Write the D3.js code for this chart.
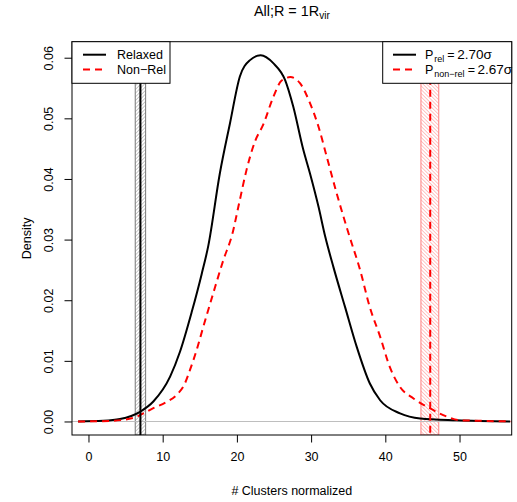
<!DOCTYPE html>
<html lang='en'>
<head>
<meta charset='UTF-8'>
<title>All;R = 1Rvir</title>
<script src='https://d3js.org/d3.v7.min.js'></script>
<style>
  body { margin: 0; background: #fff; }
  svg { display: block; font-family: 'Liberation Sans', Arial, sans-serif; }
</style>
</head>
<body>
<div id='chart'></div>
<script>
// density curves
const relaxedX = [-1.4, 2, 4.25, 6.94, 8.74, 11.0, 12.33, 13.9, 15.25, 16.15, 17.7, 19.07, 20.4, 21.77, 23.2, 24.9, 26.5, 27.6, 28.95, 29.85, 31.0, 31.9, 33.0, 34.57, 36.15, 37.9, 39.3, 41.98, 44.7, 49.6, 56.8];
const relaxedDensity = [0, 0.0001, 0.0004, 0.0016, 0.0033, 0.0074, 0.0115, 0.018, 0.0243, 0.029, 0.0409, 0.0492, 0.0569, 0.0596, 0.0604, 0.0591, 0.0563, 0.0519, 0.0448, 0.0409, 0.0354, 0.0305, 0.0255, 0.0189, 0.0123, 0.0063, 0.0035, 0.00135, 0.0005, 0.0002, 0];
const nonRelX = [-1.4, 3, 6.04, 8.74, 10.5, 11.9, 13.0, 13.68, 14.58, 15.47, 16.8, 18.17, 19.4, 20.3, 21.3, 22.44, 23.56, 24.9, 26.0, 27.2, 28.5, 29.85, 31.0, 32.1, 33.45, 35.0, 36.6, 37.9, 39.3, 40.6, 41.98, 43.8, 45.96, 48.3, 50.1, 53, 57];
const nonRelDensity = [0, 0.0001, 0.0006, 0.0022, 0.0032, 0.0044, 0.0063, 0.0085, 0.0118, 0.0156, 0.0211, 0.0266, 0.031, 0.036, 0.0415, 0.0462, 0.049, 0.0535, 0.0562, 0.0568, 0.0558, 0.0525, 0.0486, 0.0437, 0.0376, 0.0312, 0.025, 0.0189, 0.014, 0.009, 0.0057, 0.0038, 0.0022, 0.0008, 0.0002, 0.0001, 0];

// observed value and its uncertainty band
const relaxedMark = 7.0;
const relaxedBand = [6.3, 7.7];
const nonRelMark = 46.05;
const nonRelBand = [44.8, 47.2];

const xTicks = [0, 10, 20, 30, 40, 50];
const yTicks = [0, 0.01, 0.02, 0.03, 0.04, 0.05, 0.06];
const seriesNames = ['Relaxed', 'Non\u2212Rel'];
const sigmaSubs = ['rel', 'non\u2212rel'];
const sigmaValues = ['2.70\u03c3', '2.67\u03c3'];

const W = 517, H = 502;
const box = { left: 72, right: 511.7, top: 41.7, bottom: 435 };

const x = d3.scaleLinear().domain([-2.22, 57.03]).range([box.left, box.right]);
const y = d3.scaleLinear().domain([-0.00223, 0.06264]).range([box.bottom, box.top]);

const svg = d3.select('#chart').append('svg').attr('width', W).attr('height', H);

const defs = svg.append('defs');
defs.append('clipPath').attr('id', 'plotclip')
  .append('rect')
  .attr('x', box.left).attr('y', box.top)
  .attr('width', box.right - box.left).attr('height', box.bottom - box.top);

const hatch = (id, angle, colour) => {
  const p = defs.append('pattern').attr('id', id)
    .attr('patternUnits', 'userSpaceOnUse')
    .attr('width', 2.6).attr('height', 2.6)
    .attr('patternTransform', `rotate(${angle})`);
  p.append('line').attr('x1', 0).attr('y1', 0).attr('x2', 0).attr('y2', 2.6)
    .attr('stroke', colour).attr('stroke-width', 0.9);
};
hatch('hatchRel', 45, '#8a8a8a');
hatch('hatchNon', -45, '#ff7a7a');

const plot = svg.append('g').attr('clip-path', 'url(#plotclip)');

// bands
plot.append('rect')
  .attr('x', x(relaxedBand[0])).attr('y', box.top)
  .attr('width', x(relaxedBand[1]) - x(relaxedBand[0])).attr('height', box.bottom - box.top)
  .attr('fill', 'url(#hatchRel)').attr('stroke', '#777').attr('stroke-width', 1);
plot.append('rect')
  .attr('x', x(nonRelBand[0])).attr('y', box.top)
  .attr('width', x(nonRelBand[1]) - x(nonRelBand[0])).attr('height', box.bottom - box.top)
  .attr('fill', 'url(#hatchNon)').attr('stroke', '#ff8080').attr('stroke-width', 1);

// zero line
plot.append('line')
  .attr('x1', box.left).attr('x2', box.right)
  .attr('y1', y(0)).attr('y2', y(0))
  .attr('stroke', '#bebebe').attr('stroke-width', 1.2);

const line = d3.line().x(d => x(d[0])).y(d => y(d[1])).curve(d3.curveMonotoneX);

plot.append('path')
  .datum(relaxedX.map((v, i) => [v, relaxedDensity[i]]))
  .attr('d', line)
  .attr('fill', 'none').attr('stroke', '#000').attr('stroke-width', 2);

plot.append('path')
  .datum(nonRelX.map((v, i) => [v, nonRelDensity[i]]))
  .attr('d', line)
  .attr('fill', 'none').attr('stroke', '#ff0000').attr('stroke-width', 2)
  .attr('stroke-dasharray', '7,5');

plot.append('line')
  .attr('x1', x(relaxedMark)).attr('x2', x(relaxedMark))
  .attr('y1', box.top).attr('y2', box.bottom)
  .attr('stroke', '#000').attr('stroke-width', 2);
plot.append('line')
  .attr('x1', x(nonRelMark)).attr('x2', x(nonRelMark))
  .attr('y1', box.top).attr('y2', box.bottom)
  .attr('stroke', '#ff0000').attr('stroke-width', 2)
  .attr('stroke-dasharray', '7,5');

// axes
const xAxis = svg.append('g').attr('transform', `translate(0, ${box.bottom})`)
  .call(d3.axisBottom(x).tickValues(xTicks).tickSize(7.5).tickSizeOuter(0).tickPadding(9.5));
xAxis.select('.domain').remove();
xAxis.selectAll('text').attr('font-size', 12.5).attr('font-family', null).attr('fill', '#000');
xAxis.selectAll('line').attr('stroke', '#000');

const yAxis = svg.append('g').attr('transform', `translate(${box.left}, 0)`)
  .call(d3.axisLeft(y).tickValues(yTicks).tickSize(7.5).tickSizeOuter(0).tickFormat(d3.format('.2f')));
yAxis.select('.domain').remove();
yAxis.selectAll('line').attr('stroke', '#000');
yAxis.selectAll('text')
  .attr('font-size', 12.5).attr('font-family', null).attr('fill', '#000')
  .attr('x', null).attr('dy', null)
  .attr('text-anchor', 'middle')
  .attr('transform', 'translate(-19.3, 0) rotate(-90)');

// plot frame
svg.append('rect')
  .attr('x', box.left).attr('y', box.top)
  .attr('width', box.right - box.left).attr('height', box.bottom - box.top)
  .attr('fill', 'none').attr('stroke', '#000').attr('stroke-width', 1);

// titles
const title = svg.append('text')
  .attr('x', (box.left + box.right) / 2).attr('y', 15.5)
  .attr('text-anchor', 'middle').attr('font-size', 14.4);
title.append('tspan').text('All;R = 1R');
title.append('tspan').attr('dy', 3.5).attr('font-size', 10).text('vir');

svg.append('text')
  .attr('x', (box.left + box.right) / 2).attr('y', 495)
  .attr('text-anchor', 'middle').attr('font-size', 12.5)
  .text('# Clusters normalized');

svg.append('text')
  .attr('transform', `translate(31, ${(box.top + box.bottom) / 2}) rotate(-90)`)
  .attr('text-anchor', 'middle').attr('font-size', 12.5)
  .text('Density');

// legends
const styles = [
  { stroke: '#000', dash: null },
  { stroke: '#ff0000', dash: '7,5' }
];
const rowY = [54.7, 69.5];

const legL = svg.append('g');
legL.append('rect')
  .attr('x', box.left).attr('y', box.top)
  .attr('width', 170 - box.left).attr('height', 83.3 - box.top)
  .attr('fill', '#fff').attr('stroke', '#000').attr('stroke-width', 1);
seriesNames.forEach((name, i) => {
  legL.append('line')
    .attr('x1', 83).attr('x2', 106).attr('y1', rowY[i]).attr('y2', rowY[i])
    .attr('stroke', styles[i].stroke).attr('stroke-width', 2)
    .attr('stroke-dasharray', styles[i].dash);
  legL.append('text')
    .attr('x', 117).attr('y', rowY[i] + 4.6)
    .attr('font-size', 12.5).text(name);
});

const legR = svg.append('g');
legR.append('rect')
  .attr('x', 382.7).attr('y', box.top)
  .attr('width', box.right - 382.7).attr('height', 83.3 - box.top)
  .attr('fill', '#fff').attr('stroke', '#000').attr('stroke-width', 1);
sigmaSubs.forEach((sub, i) => {
  legR.append('line')
    .attr('x1', 393).attr('x2', 416).attr('y1', rowY[i]).attr('y2', rowY[i])
    .attr('stroke', styles[i].stroke).attr('stroke-width', 2)
    .attr('stroke-dasharray', styles[i].dash);
  const t = legR.append('text')
    .attr('x', 425).attr('y', rowY[i] + 4.6)
    .attr('font-size', 12.5);
  t.append('tspan').text('P');
  t.append('tspan').attr('dy', 3).attr('dx', 1).attr('font-size', 9).text(sub);
  t.append('tspan').attr('dy', -3).attr('dx', 3).text('=');
  t.append('tspan').attr('dx', 2.5).attr('font-size', 13.5).text(sigmaValues[i]);
});
</script>
</body>
</html>
